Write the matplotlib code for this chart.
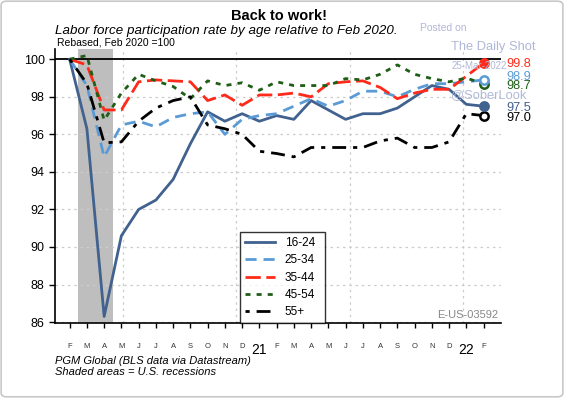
import matplotlib.pyplot as plt
from matplotlib.patches import FancyBboxPatch

plt.rcParams['font.family'] = ['Liberation Sans', 'DejaVu Sans']

# months from Feb 2020 to Feb 2022
month_labels = ['F', 'M', 'A', 'M', 'J', 'J', 'A', 'S', 'O', 'N', 'D', '21',
                'F', 'M', 'A', 'M', 'J', 'J', 'A', 'S', 'O', 'N', 'D', '22', 'F']

age_16_24 = [100, 96.3, 86.3, 90.6, 92.0, 92.5, 93.6, 95.5, 97.2, 96.7, 97.1, 96.7,
             97.0, 96.8, 97.8, 97.3, 96.8, 97.1, 97.1, 97.4, 98.0, 98.6, 98.4, 97.6, 97.5]
age_25_34 = [100, 98.6, 94.8, 96.5, 96.7, 96.4, 96.9, 97.1, 97.2, 96.0, 96.8, 97.0,
             97.1, 97.5, 97.9, 97.5, 97.8, 98.3, 98.3, 98.0, 98.4, 98.7, 98.7, 98.8, 98.9]
age_35_44 = [100, 99.7, 97.3, 97.3, 98.8, 98.9, 98.85, 98.8, 97.8, 98.1, 97.55, 98.1,
             98.1, 98.2, 98.0, 98.7, 98.8, 98.85, 98.5, 97.9, 98.2, 98.4, 98.4, 99.1, 99.8]
age_45_54 = [100, 100.2, 96.75, 98.2, 99.2, 98.85, 98.55, 97.9, 98.85, 98.6, 98.75, 98.35,
             98.8, 98.6, 98.6, 98.6, 98.97, 98.9, 99.2, 99.7, 99.2, 98.97, 98.8, 99.0, 98.7]
age_55_plus = [100, 98.7, 95.55, 95.6, 96.7, 97.4, 97.8, 98.0, 96.5, 96.3, 96.0, 95.1,
               94.98, 94.8, 95.3, 95.3, 95.3, 95.3, 95.65, 95.8, 95.3, 95.3, 95.6, 97.1, 97.0]

series = [
    ('16-24', age_16_24, '#41618f', '-', True),
    ('25-34', age_25_34, '#5b9bd5', (0, (4, 2.5)), False),
    ('35-44', age_35_44, '#ff2a1a', (0, (5.5, 2)), True),
    ('45-54', age_45_54, '#1e5e16', (0, (1.8, 2.2)), False),
    ('55+', age_55_plus, 'black', (0, (1.5, 2.5, 5, 2.5)), False),
]

fig = plt.figure(figsize=(5.64, 3.98), dpi=100)
ax = fig.add_axes([0.0975, 0.1884, 0.7905, 0.6886])

xs = list(range(len(month_labels)))
ax.axvspan(0.5, 2.5, color='#bebebe', zorder=0, lw=0)
ax.axhline(100, color='black', lw=1.3, zorder=1)

for k in range(4):
    ax.axvline(3.07 + 6.58 * k, color='#cccccc', ls=(0, (2, 3)), lw=0.9, zorder=0)
for v in range(86, 100, 2):
    ax.axhline(v, color='#cccccc', ls=(0, (2, 3)), lw=0.9, zorder=0)

label_y = {'16-24': 97.42, '25-34': 99.03, '35-44': 99.75, '45-54': 98.58, '55+': 96.86}
handles = {}
order = [4, 3, 1, 2, 0]
for i in order:
    name, ys, col, dash, filled = series[i]
    handles[name], = ax.plot(xs, ys, color=col, lw=2, ls=dash, label=name, zorder=3 + i)
    ax.plot(xs[-1], ys[-1], 'o', ms=6, mew=1.8, color=col,
            mfc=col if filled else 'white', zorder=10)
    ax.text(25.3, label_y[name], f'{ys[-1]:.1f}', color=col, fontsize=9.2,
            va='center', ha='left', clip_on=False)

ax.set_xlim(-0.85, 25)
ax.set_ylim(85.95, 100.55)
ax.set_yticks(range(86, 101, 2))
ax.tick_params(axis='y', labelsize=9, length=4, width=1)

ax.set_xticks(xs)
ax.set_xticklabels(month_labels)
for t, lab in zip(ax.xaxis.get_major_ticks(), month_labels):
    if lab in ('21', '22'):
        t.label1.set_fontsize(10)
        t.tick1line.set_markersize(8)
    else:
        t.label1.set_fontsize(5.5)
        t.label1.set_color('#333333')
        t.tick1line.set_markersize(4)
ax.tick_params(axis='x', pad=11, width=1)

for s in ['top', 'right']:
    ax.spines[s].set_visible(False)
ax.spines['left'].set_linewidth(1.2)
ax.spines['bottom'].set_linewidth(1.2)

leg = ax.legend(handles=[handles[s[0]] for s in series],
                loc='lower left', bbox_to_anchor=(0.415, 0.0, 0.19, 0.295),
                mode='expand', fontsize=8.5, frameon=True, fancybox=False,
                edgecolor='black', handlelength=2.6, borderaxespad=0,
                labelspacing=0.45)
leg.get_frame().set_linewidth(1)
leg.set_zorder(20)

ax.text(0.995, 0.01, 'E-US-03592', transform=ax.transAxes, ha='right', va='bottom',
        fontsize=8, color='#888888')

fig.text(0.495, 0.96, 'Back to work!', ha='center', va='center', fontsize=10.5,
         fontweight='bold')
fig.text(0.097, 0.922, 'Labor force participation rate by age relative to Feb 2020.',
         ha='left', va='center', fontsize=9.6, style='italic')
fig.text(0.101, 0.892, 'Rebased, Feb 2020 =100', ha='left', va='center', fontsize=7.5)

wm = '#b0b8d8'
fig.text(0.745, 0.93, 'Posted on', color=wm, fontsize=7.5, va='center')
fig.text(0.80, 0.883, 'The Daily Shot', color=wm, fontsize=9.3, va='center')
fig.text(0.80, 0.833, '25-Mar-2022', color=wm, fontsize=7, va='center')
fig.text(0.80, 0.762, '@SoberLook', color=wm, fontsize=9.3, va='center')

fig.text(0.097, 0.093, 'PGM Global (BLS data via Datastream)', style='italic', fontsize=8,
         va='center')
fig.text(0.097, 0.065, 'Shaded areas = U.S. recessions', style='italic', fontsize=8,
         va='center')

fig.patches.append(FancyBboxPatch((0.002, 0.003), 0.996, 0.994,
                                  boxstyle='round,pad=0,rounding_size=0.01',
                                  transform=fig.transFigure, fill=False, ec='#c8c8c8', lw=1.2))

fig.savefig('out.png', dpi=100)
